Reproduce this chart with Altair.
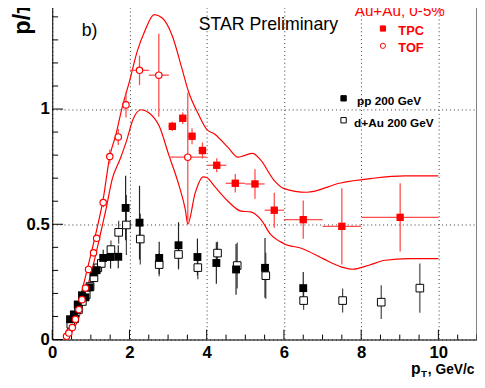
import altair as alt
import pandas as pd

# ---------------- data ----------------
# Au+Au 0-5% TOF (open red circles)
tof_x = [0.37, 0.43, 0.52, 0.60, 0.69, 0.77, 0.86, 0.94, 1.07, 1.15, 1.32, 1.49, 1.71, 1.91, 2.26, 2.76, 3.51]
tof_y = [0.014, 0.028, 0.052, 0.088, 0.13, 0.173, 0.223, 0.304, 0.376, 0.439, 0.594, 0.794, 0.879, 1.018, 1.168, 1.147, 0.791]
tof_ey = [0.004, 0.004, 0.005, 0.005, 0.006, 0.006, 0.007, 0.008, 0.01, 0.012, 0.02, 0.03, 0.035, 0.055, 0.064, 0.18, 0.28]
tof_ex = [0, 0, 0, 0, 0, 0, 0, 0, 0, 0, 0, 0, 0, 0, 0.25, 0.26, 0.49]

# Au+Au 0-5% TPC (filled red squares)
tpc_x = [3.11, 3.38, 3.62, 3.89, 4.26, 4.74, 5.25, 5.75, 6.50, 7.50, 9.01]
tpc_y = [0.925, 0.960, 0.882, 0.820, 0.756, 0.678, 0.675, 0.561, 0.520, 0.491, 0.530]
tpc_ey = [0.02, 0.025, 0.035, 0.035, 0.03, 0.04, 0.064, 0.076, 0.083, 0.165, 0.148]
tpc_ex = [0.1, 0.1, 0.1, 0.1, 0.25, 0.25, 0.25, 0.25, 0.5, 0.5, 1.0]

# pp 200 GeV (filled black squares)
pp_x = [0.46, 0.56, 0.66, 0.77, 0.86, 0.97, 1.07, 1.15, 1.32, 1.51, 1.71, 1.90, 2.26, 2.77, 3.27, 3.76, 4.25, 4.76, 5.51, 6.50]
pp_y = [0.088, 0.109, 0.152, 0.192, 0.183, 0.226, 0.291, 0.301, 0.354, 0.358, 0.359, 0.571, 0.507, 0.354, 0.409, 0.358, 0.332, 0.304, 0.311, 0.223]
pp_ey = [0.008, 0.008, 0.01, 0.012, 0.012, 0.015, 0.02, 0.02, 0.035, 0.05, 0.05, 0.14, 0.16, 0.07, 0.1, 0.08, 0.09, 0.11, 0.13, 0.07]

# d+Au 200 GeV (open black squares)
dau_x = [0.48, 0.58, 0.68, 0.78, 0.88, 0.98, 1.08, 1.18, 1.27, 1.52, 1.72, 1.92, 2.28, 2.77, 3.27, 3.77, 4.28, 4.79, 5.53, 6.51, 7.52, 8.52, 9.52]
dau_y = [0.066, 0.09, 0.13, 0.165, 0.194, 0.23, 0.268, 0.311, 0.33, 0.39, 0.465, 0.497, 0.436, 0.325, 0.369, 0.312, 0.375, 0.321, 0.277, 0.169, 0.169, 0.162, 0.223]
dau_ey = [0.006, 0.007, 0.008, 0.01, 0.012, 0.014, 0.016, 0.02, 0.025, 0.04, 0.05, 0.13, 0.11, 0.05, 0.065, 0.05, 0.05, 0.1, 0.1, 0.04, 0.052, 0.073, 0.107]

# model band (upper and lower curves)
up_x = [0.35, 0.5, 0.7, 0.9, 1.1, 1.32, 1.49, 1.65, 1.8, 2.0, 2.2, 2.4, 2.64, 2.85, 3.11, 3.36, 3.53, 3.79, 4.0, 4.21, 4.55, 4.81, 4.97, 5.19, 5.40, 5.74, 5.99, 6.59, 7.44, 8.28, 9.13, 10.0]
up_y = [0.03, 0.08, 0.17, 0.30, 0.44, 0.61, 0.795, 0.89, 1.0, 1.12, 1.25, 1.34, 1.41, 1.395, 1.317, 1.175, 1.075, 0.976, 0.912, 0.891, 0.834, 0.791, 0.798, 0.808, 0.778, 0.692, 0.656, 0.639, 0.678, 0.699, 0.710, 0.710]
lo_x = [0.35, 0.5, 0.7, 0.9, 1.1, 1.25, 1.39, 1.56, 1.75, 1.92, 2.09, 2.3, 2.51, 2.77, 3.02, 3.28, 3.45, 3.51, 3.70, 3.91, 4.0, 4.21, 4.55, 4.89, 5.14, 5.40, 5.65, 5.99, 6.5, 7.01, 7.48, 7.78, 8.2, 8.62, 9.22, 10.0]
lo_y = [0.0, 0.03, 0.10, 0.22, 0.35, 0.46, 0.564, 0.70, 0.78, 0.86, 0.955, 0.997, 0.983, 0.926, 0.80, 0.67, 0.56, 0.5, 0.635, 0.706, 0.703, 0.663, 0.6, 0.557, 0.554, 0.521, 0.457, 0.417, 0.393, 0.351, 0.315, 0.305, 0.322, 0.344, 0.351, 0.351]

# axis ticks
x_major = [0, 2, 4, 6, 8, 10]
x_minor = [0.5, 1, 1.5, 2.5, 3, 3.5, 4.5, 5, 5.5, 6.5, 7, 7.5, 8.5, 9, 9.5, 10.5, 11]
y_major = [0, 0.5, 1.0]
y_minor = [0.1, 0.2, 0.3, 0.4, 0.6, 0.7, 0.8, 0.9, 1.1, 1.2, 1.3, 1.4]

# ---------------- chart ----------------
W, H = 432, 342
XMAX, YMAX = 11.0, 1.459
FONT = "Liberation Sans, Arial, Helvetica"
RED = "#ff0000"
ERRRED = "#ff4d4d"

xs = alt.Scale(domain=[0, XMAX], nice=False, zero=False)
ys = alt.Scale(domain=[0, YMAX], nice=False, zero=False)
xaxis = alt.Axis(values=x_major, format="d", grid=True, gridDash=[1, 3], gridColor="#333",
                 ticks=False, domain=True, domainColor="black", labelFlush=False,
                 labelFont=FONT, labelFontWeight="bold", labelFontSize=17, labelColor="black",
                 labelPadding=5, title=None)
yaxis = alt.Axis(values=y_major, format="~g", grid=True, gridDash=[1, 3], gridColor="#333",
                 ticks=False, domain=True, domainColor="black", labelFlush=False,
                 labelFont=FONT, labelFontWeight="bold", labelFontSize=17, labelColor="black",
                 labelPadding=3, title=None)


def X(f="x"):
    return alt.X(f"{f}:Q", scale=xs, axis=xaxis)


def Y(f="y"):
    return alt.Y(f"{f}:Q", scale=ys, axis=yaxis)


def table(x, y, ey, ex=None):
    d = pd.DataFrame({"x": x, "y": y, "ey": ey})
    d["ex"] = ex if ex is not None else 0.0
    d["ylo"] = d["y"] - d["ey"]
    d["yhi"] = d["y"] + d["ey"]
    d["xlo"] = d["x"] - d["ex"]
    d["xhi"] = d["x"] + d["ex"]
    return d


tof = table(tof_x, tof_y, tof_ey, tof_ex)
tpc = table(tpc_x, tpc_y, tpc_ey, tpc_ex)
pp = table(pp_x, pp_y, pp_ey)
dau = table(dau_x, dau_y, dau_ey)

layers = []

# ticks (inside, ROOT style)
layers.append(alt.Chart(pd.DataFrame({"x": x_major})).mark_rule(color="black").encode(
    x=X(), y=alt.value(H), y2=alt.value(H - 10)))
layers.append(alt.Chart(pd.DataFrame({"x": x_minor})).mark_rule(color="black").encode(
    x=X(), y=alt.value(H), y2=alt.value(H - 5)))
layers.append(alt.Chart(pd.DataFrame({"y": y_major})).mark_rule(color="black").encode(
    y=Y(), x=alt.value(0), x2=alt.value(11)))
layers.append(alt.Chart(pd.DataFrame({"y": y_minor})).mark_rule(color="black").encode(
    y=Y(), x=alt.value(0), x2=alt.value(6)))
# right frame
layers.append(alt.Chart(pd.DataFrame({"y": [0]})).mark_rule(color="black").encode(
    x=alt.value(W), y=alt.value(0), y2=alt.value(H)))

# band
for bx, by in ((up_x, up_y), (lo_x, lo_y)):
    layers.append(alt.Chart(pd.DataFrame({"x": bx, "y": by})).mark_line(
        color=RED, strokeWidth=1.2, interpolate="monotone").encode(x=X(), y=Y()))

# error bars
for d, col in ((dau, "#444"), (pp, "#222")):
    layers.append(alt.Chart(d).mark_rule(color=col, strokeWidth=1.2).encode(
        x=X(), y=Y("ylo"), y2="yhi:Q"))
for d in (tof, tpc):
    layers.append(alt.Chart(d).mark_rule(color=ERRRED, strokeWidth=1.3).encode(
        x=X(), y=Y("ylo"), y2="yhi:Q"))
    layers.append(alt.Chart(d[d["ex"] > 0]).mark_rule(color=ERRRED, strokeWidth=1.3).encode(
        x=X("xlo"), x2="xhi:Q", y=Y()))

# markers
layers.append(alt.Chart(dau).mark_point(shape="square", filled=True, fill="white",
                                        stroke="black", strokeWidth=1, size=60, opacity=1).encode(x=X(), y=Y()))
layers.append(alt.Chart(pp).mark_point(shape="square", filled=True, color="black",
                                       size=64, opacity=1).encode(x=X(), y=Y()))
layers.append(alt.Chart(tof).mark_point(shape="circle", filled=True, fill="white",
                                        stroke=RED, strokeWidth=1.2, size=42, opacity=1).encode(x=X(), y=Y()))
layers.append(alt.Chart(tpc).mark_point(shape="square", filled=True, color=RED,
                                        size=56, opacity=1).encode(x=X(), y=Y()))

# annotations
one = pd.DataFrame({"k": [0]})


def txt(s, x, y, size, color="black", weight="normal", align="left", angle=0):
    return alt.Chart(one).mark_text(text=s, font=FONT, fontSize=size, fontWeight=weight, color=color,
                                    align=align, baseline="alphabetic", angle=angle).encode(
        x=alt.value(x), y=alt.value(y))


def marker(x, y, shape, fill, stroke, size):
    return alt.Chart(one).mark_point(shape=shape, filled=True, fill=fill, stroke=stroke,
                                     strokeWidth=1, size=size, opacity=1).encode(x=alt.value(x), y=alt.value(y))


layers += [
    txt("b)", 30, 33, 18),
    txt("STAR Preliminary", 149, 27.5, 18),
    txt("Au+Au, 0-5%", 353.5, 13, 15.5, color=RED, align="center"),
    marker(336.3, 25.7, "square", RED, RED, 28),
    txt("TPC", 352, 32.3, 13, color=RED, weight="bold"),
    marker(336.3, 43.3, "circle", "white", RED, 28),
    txt("TOF", 352, 50, 13, color=RED, weight="bold"),
    marker(296.3, 96.7, "square", "black", "black", 30),
    txt("pp 200 GeV", 310, 103, 12, weight="bold"),
    marker(296.3, 119, "square", "white", "black", 30),
    txt("d+Au 200 GeV", 307, 126, 12, weight="bold"),
    txt("p", 365, 377, 16, weight="bold"),
    txt("T", 375, 380, 10, weight="bold"),
    txt(", GeV/c", 382, 377, 14, weight="bold"),
    txt("p/π", -23, 32, 24, weight="bold", angle=270),
]

chart = alt.layer(*layers).properties(
    width=W, height=H,
    autosize=alt.AutoSizeParams(type="none"),
    padding={"left": 45, "top": -8, "right": 0, "bottom": 38},
).configure_view(stroke=None).configure(background="white")

chart.save("out.html", embed_options={"renderer": "svg", "actions": False})
